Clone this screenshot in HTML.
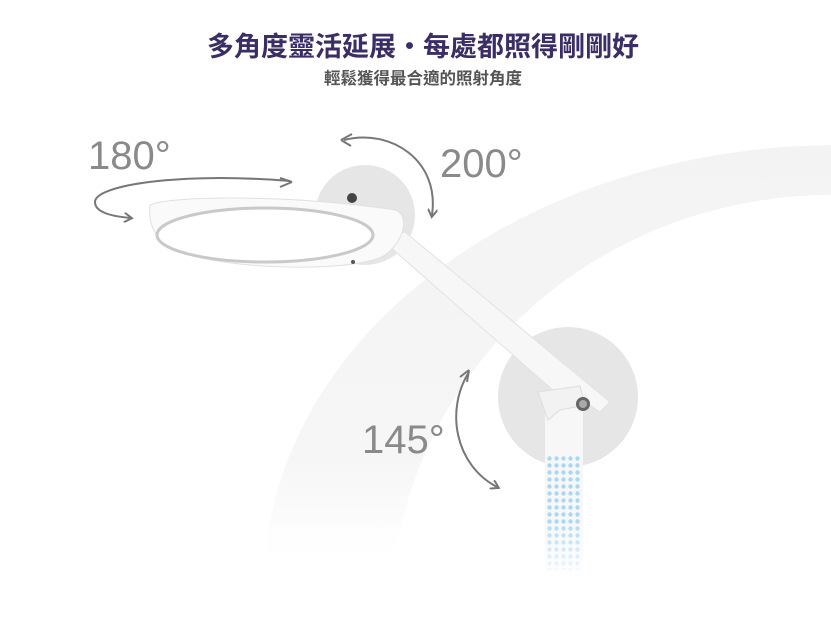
<!DOCTYPE html>
<html><head><meta charset="utf-8"><style>
body{margin:0;background:#fff;}
svg{display:block}
</style></head><body>
<svg width="831" height="633" viewBox="0 0 831 633" xmlns="http://www.w3.org/2000/svg">
<defs>
<linearGradient id="bg" x1="0" y1="0" x2="0" y2="1">
<stop offset="0" stop-color="#f3f3f3"/><stop offset="0.75" stop-color="#f6f6f6"/><stop offset="1" stop-color="#fff"/>
</linearGradient>
<pattern id="dots" width="7" height="7" patternUnits="userSpaceOnUse">
<circle cx="3.5" cy="3.5" r="2.2" fill="#a9d8f5"/>
</pattern>
<linearGradient id="fade" x1="0" y1="0" x2="0" y2="1">
<stop offset="0" stop-color="#fff" stop-opacity="0"/><stop offset="1" stop-color="#fff" stop-opacity="1"/>
</linearGradient>
<marker id="ah" markerWidth="10" markerHeight="10" refX="6" refY="5" orient="auto" markerUnits="userSpaceOnUse">
<path d="M0,0 L8,5 L0,10" fill="none" stroke="#777" stroke-width="2"/>
</marker>
</defs>
<text x="423" y="56" text-anchor="middle" font-family="Liberation Sans, Noto Sans CJK TC, sans-serif" font-size="27" font-weight="bold" fill="#3b2d66">多角度靈活延展・每處都照得剛剛好</text>
<text x="423" y="84" text-anchor="middle" font-family="Liberation Sans, Noto Sans CJK TC, sans-serif" font-size="16.5" font-weight="bold" fill="#555">輕鬆獲得最合適的照射角度</text>
<path d="M265,560 A575,440 0 0 1 840,145 L840,195 A440,420 0 0 0 395,560 Z" fill="url(#bg)"/>
<rect x="250" y="510" width="200" height="70" fill="url(#fade)"/>
<circle cx="365" cy="215" r="50" fill="#e6e6e6"/>
<circle cx="568" cy="397" r="70" fill="#e6e6e6"/>
<polygon points="380,238 405,232 610,402 600,412 575,395 555,392" fill="#f7f7f7" stroke="#e2e2e2" stroke-width="1"/>
<path d="M150,205 C170,195 300,195 395,210 C410,215 405,240 385,255 C360,272 230,272 175,250 C155,240 148,225 150,205 Z" fill="#fafafa" stroke="#e0e0e0"/>
<ellipse cx="265" cy="235" rx="108" ry="27" fill="#fff" stroke="#c9c9c9" stroke-width="3"/>
<circle cx="352" cy="198" r="5" fill="#444"/>
<circle cx="353" cy="262" r="2" fill="#555"/>
<rect x="545" y="400" width="38" height="175" fill="#f7f7f7"/>
<rect x="547" y="455" width="34" height="115" fill="url(#dots)"/>
<rect x="545" y="520" width="40" height="60" fill="url(#fade)"/>
<path d="M538,392 L580,386 L585,405 L560,410 L548,420 Z" fill="#f2f2f2" stroke="#ddd"/>
<circle cx="583" cy="404" r="7" fill="#666"/><circle cx="583" cy="404" r="4" fill="#aaa"/>
<path d="M290,181 C180,172 95,185 95,202 C95,212 110,216 130,218" fill="none" stroke="#777" stroke-width="2" marker-end="url(#ah)"/>
<path d="M292,182 L280,178 M292,182 L280,187" stroke="#777" stroke-width="2"/>
<path d="M344,140 C390,128 440,160 432,215" fill="none" stroke="#777" stroke-width="2" marker-end="url(#ah)"/>
<path d="M341,140 L352,134 M341,140 L351,146" stroke="#777" stroke-width="2"/>
<path d="M469,372 C445,410 455,465 497,487" fill="none" stroke="#777" stroke-width="2" marker-end="url(#ah)"/>
<path d="M469,370 L467,382 M469,370 L460,377" stroke="#777" stroke-width="2"/>
<g font-family="Liberation Sans, DejaVu Sans, sans-serif" font-size="40" fill="#8a8a8a">
<text x="88" y="169">180°</text>
<text x="440" y="177">200°</text>
<text x="362" y="453">145°</text>
</g>
</svg>
</body></html>
